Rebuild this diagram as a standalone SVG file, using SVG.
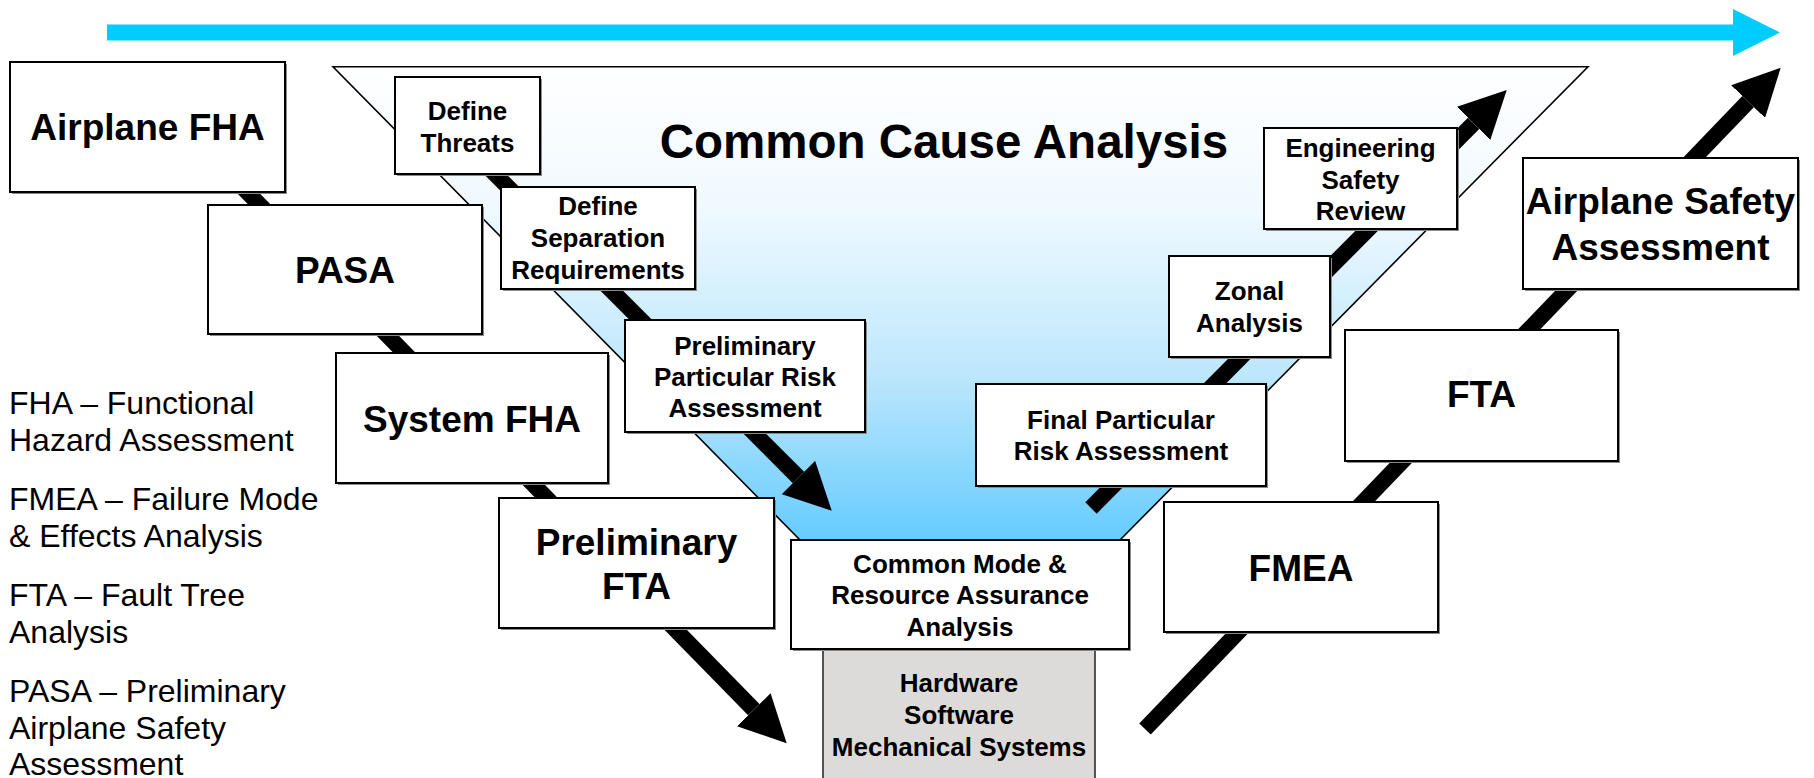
<svg xmlns="http://www.w3.org/2000/svg" width="1814" height="778" viewBox="0 0 1814 778">
<defs>
<linearGradient id="funnelGrad" gradientUnits="userSpaceOnUse" x1="0" y1="66.7" x2="0" y2="540">
<stop offset="0" stop-color="#FFFFFF"/>
<stop offset="0.3" stop-color="#F0F9FF"/>
<stop offset="0.65" stop-color="#BDE7FC"/>
<stop offset="1" stop-color="#66CCFF"/>
</linearGradient>
<marker id="headK" markerWidth="2.94" markerHeight="2.94" refX="0" refY="1.47" orient="auto" markerUnits="strokeWidth">
<path d="M0,0 L2.94,1.47 L0,2.94 z" fill="#000000"/>
</marker>
<marker id="headC" markerWidth="2.94" markerHeight="2.94" refX="0" refY="1.47" orient="auto" markerUnits="strokeWidth">
<path d="M0,0 L2.94,1.47 L0,2.94 z" fill="#00CCFF"/>
</marker>
</defs>
<style>
.box{fill:#FFFFFF;stroke:#000000;stroke-width:2}
.gray{fill:#DCDBD9;stroke:#222222;stroke-width:1.5}
.sh{fill:#8A8A8A}
.shaft{fill:none;stroke:#000000;stroke-width:16;stroke-linecap:butt}
.big{font-family:"Liberation Sans",Arial,sans-serif;font-weight:bold;font-size:37px;text-anchor:middle;fill:#000}
.med{font-family:"Liberation Sans",Arial,sans-serif;font-weight:bold;font-size:26px;text-anchor:middle;fill:#000}
.title{font-family:"Liberation Sans",Arial,sans-serif;font-weight:bold;font-size:47.5px;text-anchor:middle;fill:#000}
.leg{font-family:"Liberation Sans",Arial,sans-serif;font-size:32px;fill:#000}
</style>
<rect x="0" y="0" width="1814" height="778" fill="#FFFFFF"/>

<g id="timeline">
<line x1="107" y1="32.5" x2="1733" y2="32.5" stroke="#00CCFF" stroke-width="16" marker-end="url(#headC)"/>
</g>

<g id="funnel">
<polygon points="333,66.7 1588,66.7 1120,540 800,540" fill="url(#funnelGrad)" stroke="#000000" stroke-width="1.6"/>
<text class="title" x="944" y="158">Common Cause Analysis</text>
</g>

<g id="connectors">
<line class="shaft" x1="206" y1="150" x2="753.8" y2="709.7" marker-end="url(#headK)"/>
<line class="shaft" x1="446" y1="125" x2="798.5" y2="477.5" marker-end="url(#headK)"/>
<line class="shaft" x1="1091" y1="508" x2="1473.6" y2="123.3" marker-end="url(#headK)"/>
<line class="shaft" x1="1145" y1="729" x2="1748.1" y2="101.6" marker-end="url(#headK)"/>
</g>

<g id="airplane-fha">
<rect class="sh" x="12" y="64" width="275" height="130"/>
<rect class="box" x="10" y="62" width="275" height="130"/>
<text class="big" x="147.5" y="140">Airplane FHA</text>
</g>
<g id="pasa">
<rect class="sh" x="210" y="207" width="274" height="129"/>
<rect class="box" x="208" y="205" width="274" height="129"/>
<text class="big" x="345" y="283">PASA</text>
</g>
<g id="system-fha">
<rect class="sh" x="338" y="355" width="272" height="130"/>
<rect class="box" x="336" y="353" width="272" height="130"/>
<text class="big" x="472" y="431.5">System FHA</text>
</g>
<g id="preliminary-fta">
<rect class="sh" x="501" y="500" width="275" height="130"/>
<rect class="box" x="499" y="498" width="275" height="130"/>
<text class="big" x="636.5" y="555">Preliminary</text>
<text class="big" x="636.5" y="598.5">FTA</text>
</g>
<g id="define-threats">
<rect class="sh" x="397" y="79" width="145" height="97"/>
<rect class="box" x="395" y="77" width="145" height="97"/>
<text class="med" x="467.5" y="120">Define</text>
<text class="med" x="467.5" y="151.5">Threats</text>
</g>
<g id="define-separation">
<rect class="sh" x="503" y="189" width="194" height="102"/>
<rect class="box" x="501" y="187" width="194" height="102"/>
<text class="med" x="598" y="215">Define</text>
<text class="med" x="598" y="247">Separation</text>
<text class="med" x="598" y="278.5">Requirements</text>
</g>
<g id="preliminary-pra">
<rect class="sh" x="627" y="322" width="240" height="112"/>
<rect class="box" x="625" y="320" width="240" height="112"/>
<text class="med" x="745" y="354.5">Preliminary</text>
<text class="med" x="745" y="385.5">Particular Risk</text>
<text class="med" x="745" y="416.5">Assessment</text>
</g>
<g id="hardware">
<rect class="gray" x="823" y="649" width="272" height="140"/>
<text class="med" x="959" y="691.5" fill="#111">Hardware</text>
<text class="med" x="959" y="723.5" fill="#111">Software</text>
<text class="med" x="959" y="756" fill="#111">Mechanical Systems</text>
</g>
<g id="common-mode">
<rect class="sh" x="793" y="542" width="338" height="109"/>
<rect class="box" x="791" y="540" width="338" height="109"/>
<text class="med" x="960" y="572.5">Common Mode &amp;</text>
<text class="med" x="960" y="604">Resource Assurance</text>
<text class="med" x="960" y="636">Analysis</text>
</g>
<g id="final-pra">
<rect class="sh" x="978" y="386" width="290" height="102"/>
<rect class="box" x="976" y="384" width="290" height="102"/>
<text class="med" x="1121" y="428.5">Final Particular</text>
<text class="med" x="1121" y="460">Risk Assessment</text>
</g>
<g id="zonal-analysis">
<rect class="sh" x="1171" y="258" width="161" height="101"/>
<rect class="box" x="1169" y="256" width="161" height="101"/>
<text class="med" x="1249.5" y="300">Zonal</text>
<text class="med" x="1249.5" y="331.5">Analysis</text>
</g>
<g id="engineering-safety-review">
<rect class="sh" x="1266" y="130" width="193" height="101"/>
<rect class="box" x="1264" y="128" width="193" height="101"/>
<text class="med" x="1360.5" y="156.5">Engineering</text>
<text class="med" x="1360.5" y="188.5">Safety</text>
<text class="med" x="1360.5" y="220">Review</text>
</g>
<g id="airplane-safety-assessment">
<rect class="sh" x="1525" y="160" width="275" height="131"/>
<rect class="box" x="1523" y="158" width="275" height="131"/>
<text class="big" x="1660.5" y="213.5">Airplane Safety</text>
<text class="big" x="1660.5" y="259.5">Assessment</text>
</g>
<g id="fta">
<rect class="sh" x="1347" y="332" width="273" height="131"/>
<rect class="box" x="1345" y="330" width="273" height="131"/>
<text class="big" x="1481.5" y="407">FTA</text>
</g>
<g id="fmea">
<rect class="sh" x="1166" y="504" width="274" height="130"/>
<rect class="box" x="1164" y="502" width="274" height="130"/>
<text class="big" x="1301" y="581">FMEA</text>
</g>

<g id="legend">
<text class="leg" x="9" y="414">FHA – Functional</text>
<text class="leg" x="9" y="451">Hazard Assessment</text>
<text class="leg" x="9" y="510">FMEA – Failure Mode</text>
<text class="leg" x="9" y="547">&amp; Effects Analysis</text>
<text class="leg" x="9" y="606">FTA – Fault Tree</text>
<text class="leg" x="9" y="643">Analysis</text>
<text class="leg" x="9" y="702">PASA – Preliminary</text>
<text class="leg" x="9" y="739">Airplane Safety</text>
<text class="leg" x="9" y="775">Assessment</text>
</g>
</svg>
